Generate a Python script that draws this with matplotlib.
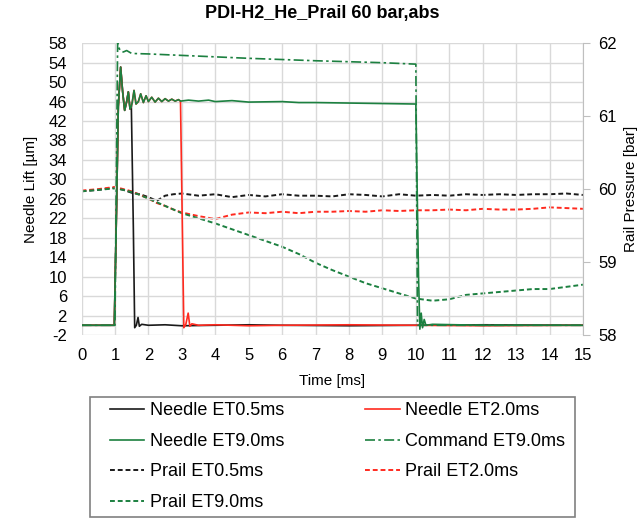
import matplotlib.pyplot as plt
from matplotlib.patches import Rectangle
import numpy as np

plt.rcParams['font.family'] = ['Liberation Sans', 'DejaVu Sans']
plt.rcParams['axes.unicode_minus'] = False

# needle lift [um]
rise_t = [0.0, 0.98, 1.05, 1.10, 1.17, 1.23, 1.29, 1.35, 1.40, 1.45, 1.49]
rise_v = [0.0, 0.0, 25.0, 45.0, 53.1, 48.0, 44.2, 46.0, 48.0, 44.5, 45.0]

n05_t = rise_t + [1.55, 1.59, 1.64, 1.69, 1.73, 1.80, 2.0, 2.5, 3.0, 4.0, 5.0, 6.0, 8.0, 10.0, 12.0, 15.0]
n05_v = rise_v + [20.0, -0.5, 0.0, 1.6, -0.2, 0.2, 0.0, 0.1, -0.1, 0.0, 0.1, 0.0, -0.1, 0.0, 0.1, 0.0]

hold_t = [1.52, 1.57, 1.63, 1.70, 1.77, 1.85, 1.93, 2.0, 2.1, 2.2, 2.3, 2.4, 2.5, 2.6, 2.7, 2.8, 2.9, 2.96]
hold_v = [46.0, 48.3, 45.5, 46.0, 47.6, 45.8, 47.2, 46.0, 46.9, 45.9, 46.7, 46.0, 46.6, 46.1, 46.5, 46.1, 46.4, 46.1]

n20_t = rise_t + hold_t + [3.06, 3.12, 3.19, 3.24, 3.30, 3.5, 4.0, 5.0, 6.0, 8.0, 10.0, 12.0, 15.0]
n20_v = rise_v + hold_v + [-0.5, 0.2, 2.5, -0.2, 0.3, 0.0, 0.1, -0.1, 0.0, 0.1, 0.0, -0.1, 0.0]

n90_t = rise_t + hold_t + [3.2, 3.5, 3.8, 4.0, 4.5, 5.0, 6.0, 6.5, 7.0, 8.0, 9.0, 10.0,
                           10.08, 10.12, 10.16, 10.20, 10.25, 10.30, 10.5, 12.0, 15.0]
n90_v = rise_v + hold_v + [46.3, 46.1, 46.3, 46.0, 46.2, 45.9, 46.0, 45.8, 45.8, 45.7, 45.6, 45.5,
                           10.0, -0.8, 2.5, -0.5, 1.2, 0.0, 0.2, 0.0, 0.0]

cmd_t = [0.0, 1.0, 1.08, 1.15, 1.25, 1.35, 1.5, 2.0, 3.0, 5.0, 7.0, 9.0, 10.0, 10.05, 15.0]
cmd_v = [0.0, 0.0, 58.0, 56.5, 56.2, 56.5, 55.9, 55.8, 55.5, 54.9, 54.4, 54.0, 53.7, 0.0, 0.0]

# rail pressure [bar]
p_t = [0.0, 0.5, 1.0, 1.25, 1.5, 1.75, 2.0, 2.25, 2.5, 2.75, 3.0, 3.5, 4.0, 4.5, 5.0, 5.5, 6.0,
       6.5, 7.0, 7.5, 8.0, 8.5, 9.0, 9.5, 10.0, 10.5, 11.0, 11.5, 12.0, 12.5, 13.0, 13.5, 14.0, 14.5, 15.0]
p05 = [59.97, 59.99, 60.02, 59.99, 59.95, 59.93, 59.89, 59.84, 59.91, 59.93, 59.94, 59.91, 59.93, 59.89,
       59.92, 59.90, 59.93, 59.91, 59.91, 59.90, 59.93, 59.92, 59.90, 59.93, 59.91, 59.92, 59.91, 59.93,
       59.92, 59.93, 59.92, 59.93, 59.93, 59.94, 59.92]
p20 = [59.98, 60.00, 60.03, 60.00, 59.97, 59.92, 59.87, 59.81, 59.77, 59.72, 59.68, 59.63, 59.59, 59.65,
       59.68, 59.67, 59.69, 59.67, 59.69, 59.69, 59.70, 59.69, 59.71, 59.70, 59.71, 59.71, 59.72, 59.71,
       59.73, 59.72, 59.72, 59.73, 59.75, 59.74, 59.73]
p90 = [59.97, 59.99, 60.01, 59.99, 59.96, 59.92, 59.87, 59.82, 59.77, 59.72, 59.67, 59.60, 59.53, 59.45,
       59.37, 59.29, 59.21, 59.11, 58.99, 58.89, 58.80, 58.71, 58.64, 58.57, 58.50, 58.47, 58.49, 58.55,
       58.57, 58.59, 58.61, 58.63, 58.63, 58.66, 58.69]

black = '#1a1a1a'
red = '#ff2a1f'
green = '#1c8040'

W, H = 644, 521
fig = plt.figure(figsize=(W / 100, H / 100), dpi=100)
ax = fig.add_axes([0.1266, 0.357, 0.7787, 0.56])
ax2 = ax.twinx()

h1, = ax.plot(n05_t, n05_v, color=black, lw=1.2)
h2, = ax.plot(n20_t, n20_v, color=red, lw=1.2)
h3, = ax.plot(n90_t, n90_v, color=green, lw=1.2)
h4, = ax.plot(cmd_t, cmd_v, color=green, lw=1.2, ls=(0, (6, 2, 1.5, 2)))
h5, = ax2.plot(p_t, p05, color=black, lw=1.4, ls=(0, (2.5, 1.5)))
h6, = ax2.plot(p_t, p20, color=red, lw=1.4, ls=(0, (2.5, 1.5)))
h7, = ax2.plot(p_t, p90, color=green, lw=1.4, ls=(0, (2.5, 1.5)))
ax.set_zorder(ax2.get_zorder() + 1)
ax.patch.set_visible(False)

ax.set_xlim(0, 15)
ax.set_ylim(-2, 58)
ax2.set_ylim(58, 62)
ax.set_xticks(range(0, 16))
ax.set_yticks(range(-2, 59, 4))
ax2.set_yticks([58, 59, 60, 61, 62])
ax.grid(True, color='#d9d9d9', lw=1)
ax.set_axisbelow(True)
for a in (ax, ax2):
    for s in a.spines.values():
        s.set_visible(False)
ax2.spines['right'].set_visible(True)
ax2.spines['right'].set_color('#bfbfbf')
ax.tick_params(axis='y', length=0, labelsize=12, pad=10.5)
ax.tick_params(axis='x', length=0, labelsize=12, pad=9.5)
ax2.tick_params(axis='y', length=5, color='#bfbfbf', labelsize=12, pad=6)

ax.set_xlabel('Time [ms]', fontsize=11, labelpad=8)
ax.set_ylabel('Needle Lift [µm]', fontsize=11, labelpad=7)
ax2.set_ylabel('Rail Pressure [bar]', fontsize=11, labelpad=5)
fig.suptitle('PDI-H2_He_Prail 60 bar,abs', fontsize=13, fontweight='bold', y=0.99)

# legend box drawn separately so its frame can match the original
fig.patches.append(Rectangle((90 / W, 1 - 517 / H), 485 / W, 120 / H,
                             transform=fig.transFigure, fill=False,
                             edgecolor='#808080', lw=1.2))
handles = [h1, h3, h5, h7, h2, h4, h6]
labels = ['Needle ET0.5ms', 'Needle ET9.0ms', 'Prail ET0.5ms', 'Prail ET9.0ms',
          'Needle ET2.0ms', 'Command ET9.0ms', 'Prail ET2.0ms']
fig.legend(handles, labels, ncol=2, loc='lower left', mode='expand',
           bbox_to_anchor=(110 / W, 1 - 511 / H, 455 / W, 0.2), fontsize=13,
           frameon=False, handlelength=1.9, labelspacing=0.75,
           borderaxespad=0, handletextpad=0.3, borderpad=0)

fig.savefig('out.png', dpi=100)
